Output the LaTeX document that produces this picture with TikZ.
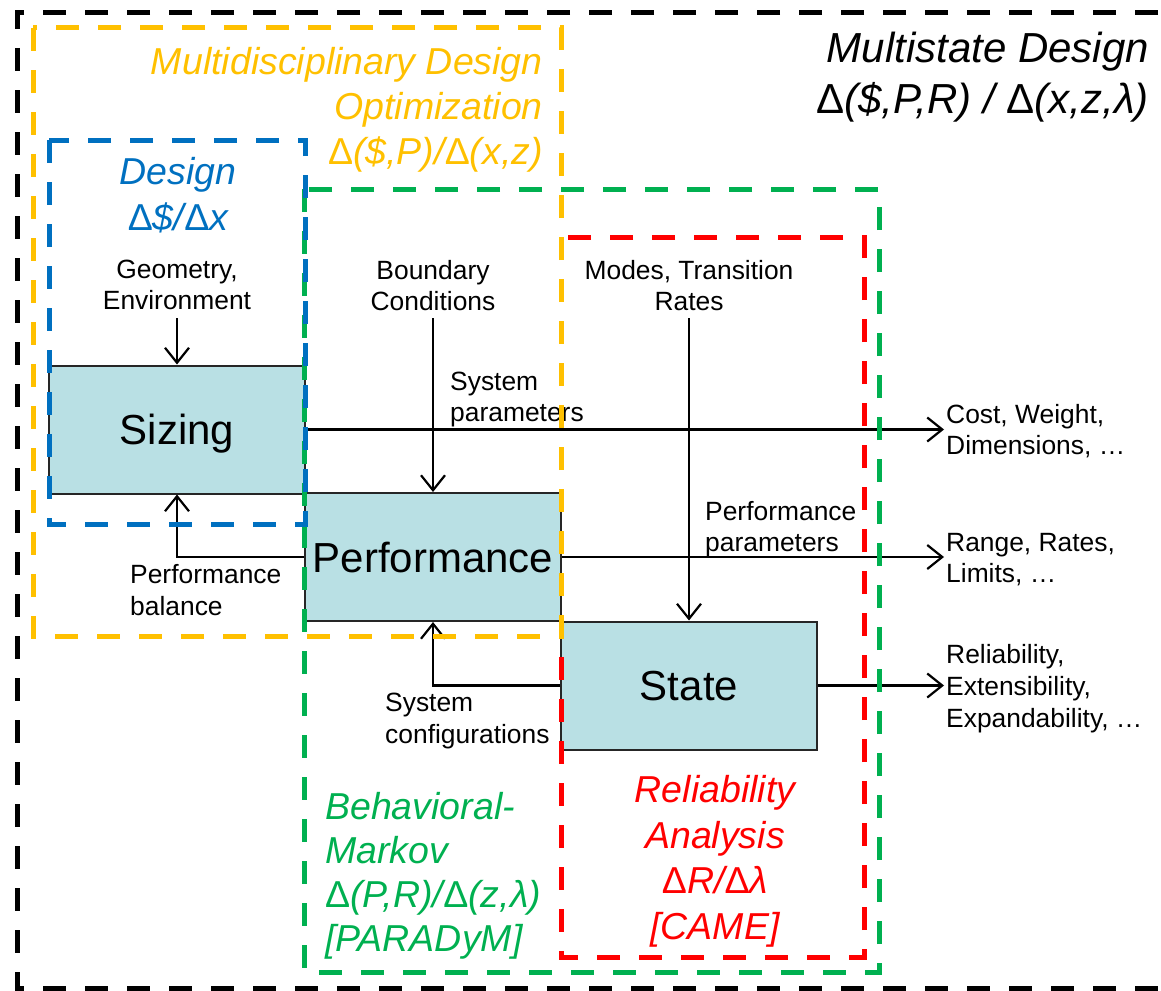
\documentclass[tikz,border=0pt]{standalone}
\usepackage{fontspec}
\setmainfont{Liberation Sans}
\usetikzlibrary{arrows.meta}
\definecolor{mdoyellow}{HTML}{FFC000}
\definecolor{designblue}{HTML}{0070C0}
\definecolor{markovgreen}{HTML}{00B050}
\definecolor{relred}{HTML}{FF0000}
\definecolor{boxfill}{RGB}{185,224,228}
\newcommand{\DUp}{{\upshape Δ}}
\begin{document}
\begin{tikzpicture}[x=1pt,y=-1pt,
  frame/.style={line width=5pt, dash pattern=on 23pt off 19pt},
  blockbox/.style={draw=black!85, line width=2pt, fill=boxfill, minimum width=256pt,
    minimum height=128pt, inner sep=0pt, text height=30.5pt, text depth=0pt,
    font=\fontsize{42}{50}\selectfont},
  link/.style={line width=2.2pt, -{Straight Barb[length=15pt,width=24pt]}},
  lbl/.style={inner sep=0pt, font=\fontsize{26.4}{31}\selectfont},
  title/.style={inner sep=0pt, font=\fontsize{37.5}{45}\selectfont\itshape}]
\path[use as bounding box] (0,0) rectangle (1161,990);
\clip (0,0) rectangle (1161,990);

% blocks
\node[blockbox] (sizing) at (177,429.5) {Sizing};
\node[blockbox] (perf) at (433,557) {Performance};
\node[blockbox] (state) at (689,685.5) {State};

% inputs from above
\node[lbl, anchor=north, align=center] (geo) at (177,259.7) {Geometry,\\Environment};
\node[lbl, anchor=north, align=center] (bc) at (433,259.7) {Boundary\\Conditions};
\node[lbl, anchor=north, align=center] (modes) at (689,259.7) {Modes, Transition\\Rates};
\coordinate (g0) at (177,318);
\coordinate (b0) at (433,318);
\coordinate (m0) at (689,318);
\draw[link] (g0) -- (sizing.north);
\draw[link] (b0) -- (perf.north);
\draw[link] (m0) -- (state.north);

% outputs to the right
\coordinate (c1) at (944,429.5);
\coordinate (c2) at (944,557);
\coordinate (c3) at (944,685.5);
\draw[link] (sizing.east) -- (c1);
\draw[link] (perf.east) -- (c2);
\draw[link] (state.east) -- (c3);
\node[lbl, anchor=north west, align=left] (syspar) at (450,371.7) {System\\parameters};
\node[lbl, anchor=north west, align=left] (perfpar) at (705,500.7) {Performance\\parameters};
\node[lbl, anchor=north west, align=left] (cost) at (946,403.7) {Cost, Weight,\\Dimensions, …};
\node[lbl, anchor=north west, align=left] (range) at (946,532.7) {Range, Rates,\\Limits, …};
\node[lbl, anchor=north west, align=left, font=\fontsize{26.4}{32}\selectfont] (rel) at (946,643.7) {Reliability,\\Extensibility,\\Expandability, …};

% feedback loops
\draw[link] (perf.west) -| (sizing.south);
\draw[link] (state.west) -| (perf.south);
\node[lbl, anchor=north west, align=left, font=\fontsize{26.4}{32}\selectfont] (pbal) at (130,563.7) {Performance\\balance};
\node[lbl, anchor=north west, align=left, font=\fontsize{26.4}{32}\selectfont] (sconf) at (385,692.7) {System\\configurations};

% dashed scopes
\draw[frame, black] (1200,13) -- (17,13) -- (17,988) -- (1200,988);
\draw[frame, markovgreen] (304,189) rectangle (879,972);
\draw[frame, relred] (561,237) rectangle (864,957);
\draw[frame, mdoyellow] (33,28) rectangle (561,636);
\draw[frame, designblue] (49,140) rectangle (305,524);

% scope titles
\node[title, anchor=north east, align=right, font=\fontsize{42}{51}\selectfont\itshape] (msd) at (1149,32.3)
  {Multistate Design\\\DUp(\$,P,R) / \DUp(x,z,λ)};
\node[title, anchor=north east, align=right, text=mdoyellow] (mdo) at (543,47.6)
  {Multidisciplinary Design\\Optimization\\\DUp(\$,P)/\DUp(x,z)};
\node[title, anchor=north, align=center, text=designblue, font=\fontsize{37.5}{46}\selectfont\itshape] (design) at (178,157.6)
  {Design\\\DUp\$/\DUp x};
\node[title, anchor=north west, align=left, text=markovgreen, font=\fontsize{37.5}{44}\selectfont\itshape] (markov) at (325,792.6)
  {Behavioral-\\Markov\\\DUp(P,R)/\DUp(z,λ)\\{[PARADyM]}};
\node[title, anchor=north, align=center, text=relred, font=\fontsize{37.5}{45.5}\selectfont\itshape] (came) at (715,775.6)
  {Reliability\\Analysis\\\DUp R/\DUp λ\\{[CAME]}};
\end{tikzpicture}
\end{document}
